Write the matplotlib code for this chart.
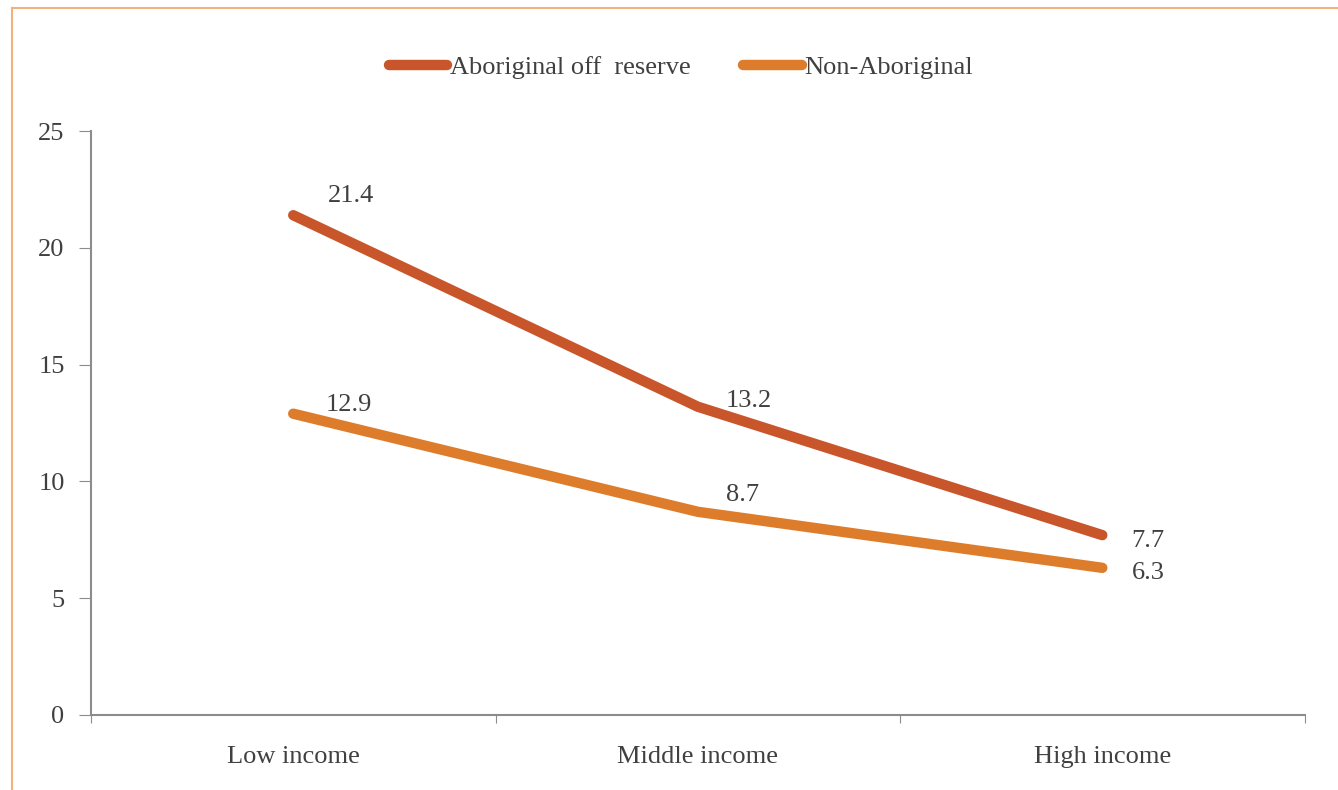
import matplotlib.pyplot as plt
from matplotlib.lines import Line2D

# Income groups and rates for each population
categories = ['Low income', 'Middle income', 'High income']
aboriginal = [21.4, 13.2, 7.7]
non_aboriginal = [12.9, 8.7, 6.3]
y_ticks = [0, 5, 10, 15, 20, 25]

ABO_COLOR = '#C9562A'
NON_COLOR = '#DD7D2C'
AXIS_COLOR = '#8C8C8C'
TEXT_COLOR = '#404040'
FS = 19

plt.rcParams['font.family'] = ['Liberation Serif', 'DejaVu Serif']

fig = plt.figure(figsize=(13.38, 7.9), dpi=100)
ax = fig.add_axes([0.068, 0.095, 0.907, 0.739])

x = [0.5, 1.5, 2.5]
ax.plot(x, aboriginal, color=ABO_COLOR, lw=7.5, solid_capstyle='round',
        solid_joinstyle='round', zorder=3)
ax.plot(x, non_aboriginal, color=NON_COLOR, lw=7.5, solid_capstyle='round',
        solid_joinstyle='round', zorder=3)

# value labels
abo_offsets = [(25, 14), (20, 4), (21, -4)]
non_offsets = [(23, 6), (20, 12), (21, -4)]
for xi, v, off in zip(x, aboriginal, abo_offsets):
    ax.annotate(f'{v}', (xi, v), xytext=off, textcoords='offset points',
                fontsize=FS, color=TEXT_COLOR, ha='left', va='center')
for xi, v, off in zip(x, non_aboriginal, non_offsets):
    ax.annotate(f'{v}', (xi, v), xytext=off, textcoords='offset points',
                fontsize=FS, color=TEXT_COLOR, ha='left', va='center')

ax.set_xlim(0, 3)
ax.set_ylim(0, 25)
ax.set_yticks(y_ticks)
ax.set_yticklabels([str(t) for t in y_ticks])
ax.set_xticks([0, 1, 2, 3])
ax.set_xticklabels([])
ax.set_xticks(x, minor=True)
ax.set_xticklabels(categories, minor=True)
ax.tick_params(axis='x', which='minor', length=0, pad=22, labelsize=FS,
               labelcolor=TEXT_COLOR)
ax.tick_params(axis='x', which='major', length=6, color=AXIS_COLOR, direction='out')
ax.tick_params(axis='y', length=9, color=AXIS_COLOR, labelsize=FS,
               labelcolor=TEXT_COLOR, pad=10)

for side in ['top', 'right']:
    ax.spines[side].set_visible(False)
for side in ['left', 'bottom']:
    ax.spines[side].set_color(AXIS_COLOR)
    ax.spines[side].set_linewidth(1.5)

handles = [Line2D([], [], color=ABO_COLOR, lw=7.5, solid_capstyle='round'),
           Line2D([], [], color=NON_COLOR, lw=7.5, solid_capstyle='round')]
fig.legend(handles, ['Aboriginal off  reserve', 'Non-Aboriginal'],
           loc='center', bbox_to_anchor=(0.509, 0.915), ncol=2, frameon=False,
           fontsize=FS, handlelength=2.2, handletextpad=0.1, columnspacing=2.0,
           labelcolor=TEXT_COLOR)

# thin frame along the top and left of the panel
fig.add_artist(Line2D([0.009, 1.0], [0.99, 0.99], color='#F2B27E', lw=1.5))
fig.add_artist(Line2D([0.009, 0.009], [0.0, 0.99], color='#F2B27E', lw=1.5))

fig.savefig('out.png', dpi=100)
